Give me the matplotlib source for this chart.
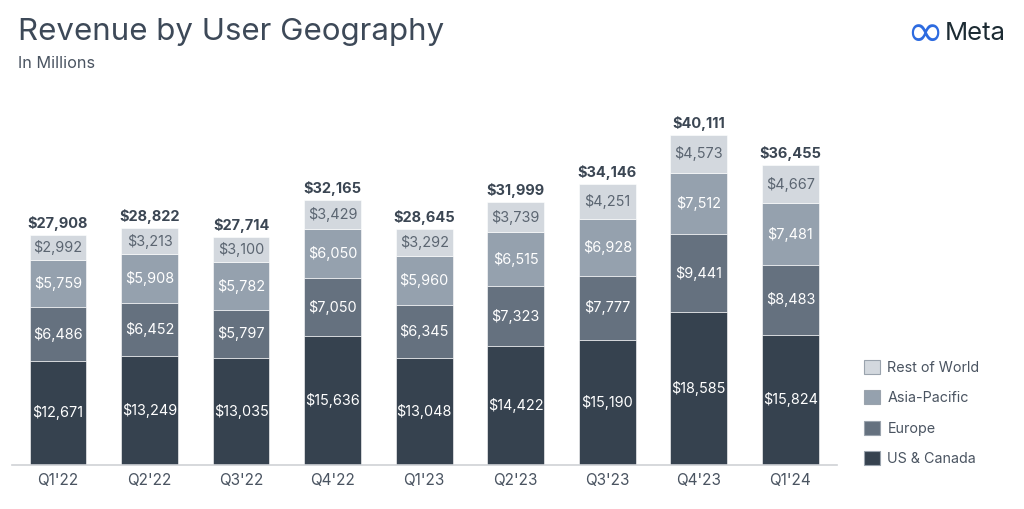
import matplotlib.pyplot as plt
import numpy as np

plt.rcParams['font.family'] = ['Inter', 'DejaVu Sans']

quarters = ["Q1'22", "Q2'22", "Q3'22", "Q4'22", "Q1'23", "Q2'23", "Q3'23", "Q4'23", "Q1'24"]
us_canada = [12671, 13249, 13035, 15636, 13048, 14422, 15190, 18585, 15824]
europe = [6486, 6452, 5797, 7050, 6345, 7323, 7777, 9441, 8483]
asia_pacific = [5759, 5908, 5782, 6050, 5960, 6515, 6928, 7512, 7481]
rest_of_world = [2992, 3213, 3100, 3429, 3292, 3739, 4251, 4573, 4667]
totals = [27908, 28822, 27714, 32165, 28645, 31999, 34146, 40111, 36455]

series = [
    ("US & Canada", us_canada, "#36424f", "white"),
    ("Europe", europe, "#65717f", "white"),
    ("Asia-Pacific", asia_pacific, "#95a1ae", "white"),
    ("Rest of World", rest_of_world, "#d3d8de", "#5b6571"),
]

fig = plt.figure(figsize=(10.24, 5.09), dpi=100)
ax = fig.add_axes([12 / 1024, 44 / 509, 825 / 1024, 365 / 509])

x = np.arange(len(quarters))
bottom = np.zeros(len(quarters))
handles = []
for name, vals, color, tcolor in series:
    vals = np.array(vals)
    b = ax.bar(x, vals, 0.62, bottom=bottom, color=color, edgecolor="white",
               linewidth=0.4, label=name)
    handles.append(b)
    for xi, v, bt in zip(x, vals, bottom):
        ax.text(xi, bt + v / 2, f"${v:,}", ha="center", va="center",
                fontsize=10.4, color=tcolor)
    bottom += vals

for xi, t in zip(x, totals):
    ax.text(xi, t + 500, f"${t:,}", ha="center", va="bottom",
            fontsize=10.5, fontweight="bold", color="#3b4653")

ax.set_xlim(-0.503, 8.51)
ax.set_ylim(0, 44350)
ax.set_xticks(x)
ax.set_xticklabels(quarters, fontsize=11, color="#4a5461")
ax.tick_params(axis="x", length=0, pad=6)
ax.set_yticks([])
for s in ["top", "right", "left"]:
    ax.spines[s].set_visible(False)
ax.spines["bottom"].set_color("#cfd2d6")
ax.spines["bottom"].set_linewidth(1.2)

leg = fig.legend(handles[::-1], [s[0] for s in series][::-1],
                 loc="upper left", bbox_to_anchor=(851 / 1024, 1 - 347 / 509),
                 frameon=False, fontsize=10.3, labelcolor="#4a5461",
                 handlelength=1.15, handleheight=1.15, handletextpad=0.5,
                 labelspacing=1.08)
for h in leg.legend_handles:
    h.set_edgecolor("#9aa3ad")
    h.set_linewidth(0.8)

fig.text(18 / 1024, 1 - 32 / 509, "Revenue by User Geography", fontsize=22.5,
         color="#3d4958", va="center", ha="left")
fig.text(18 / 1024, 1 - 63 / 509, "In Millions", fontsize=11.7,
         color="#4a5461", va="center", ha="left")

fig.text(906 / 1024, 1 - 33 / 509, "\u221e", fontsize=32, color="#2d6be0",
         va="center", ha="left", family="DejaVu Sans")
fig.text(945 / 1024, 1 - 33 / 509, "Meta", fontsize=18.5, color="#1c2b33",
         va="center", ha="left")

fig.savefig("out.png", dpi=100)
